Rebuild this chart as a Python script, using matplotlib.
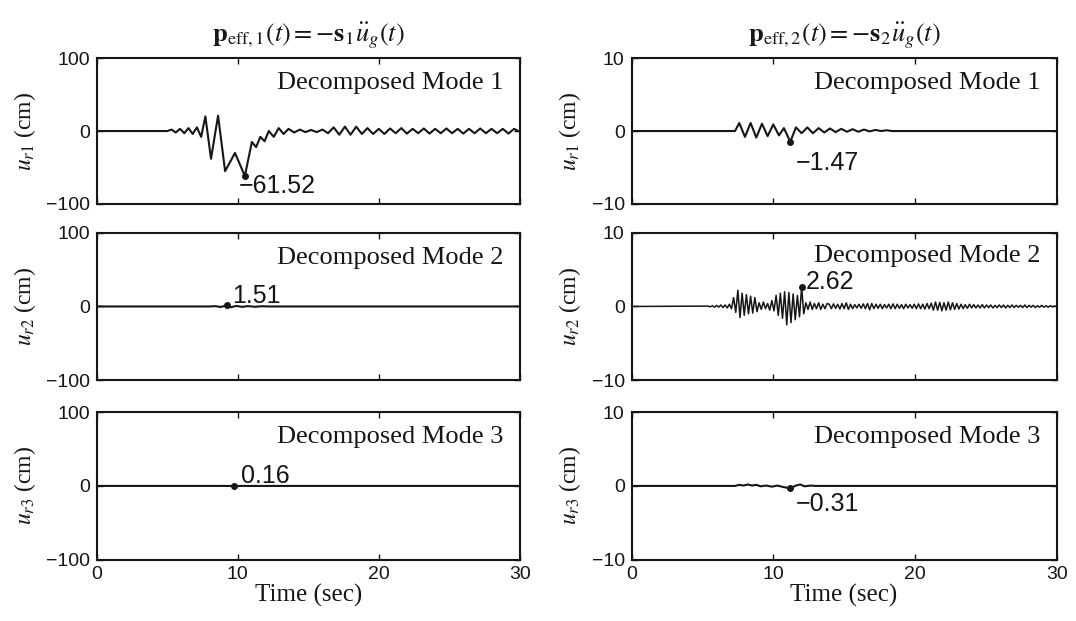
import numpy as np
import matplotlib
matplotlib.use("Agg")
import matplotlib.pyplot as plt

# -------------------------
# Modal response histories (time in sec, displacement in cm)
# -------------------------

# p_eff,1 : mode 1
t_m1_e1 = [0, 5.0, 5.3, 5.6, 5.9, 6.2, 6.5, 6.8, 7.1, 7.4, 7.7, 8.1, 8.6, 9.1, 9.8,
           10.5, 11.0, 11.3, 11.6, 11.9, 12.2, 12.55, 12.9, 13.25, 13.6, 14.0, 14.4,
           14.8, 15.2, 15.6, 16.0, 16.4, 16.8, 17.2, 17.6, 18.0, 18.4, 18.8, 19.2,
           19.6, 20.0, 20.4, 20.8, 21.2, 21.6, 22.0, 22.4, 22.8, 23.2, 23.6, 24.0,
           24.4, 24.8, 25.2, 25.6, 26.0, 26.4, 26.8, 27.2, 27.6, 28.0, 28.4, 28.8,
           29.2, 29.6, 30.0]
u_m1_e1 = [0, 0, 2, -2, 3, -3, 4, -4, 5, -8, 20, -38, 21, -55, -30,
           -61.52, -15, -22, -8, -14, 0, -8, 4, -4, 3, -2, 2,
           -1.5, 1.5, -1.5, 2, -3, 5, -5, 6, -5, 6, -4, 4,
           -4, 3, -4, 3.5, -3, 4, -3.5, 3, -3, 3.5, -3.5, 3,
           -3, 3.5, -3, 3, -3.5, 3, -3, 3.5, -3, 3, -3, 3,
           -3.5, 3, -1]

# p_eff,2 : mode 1
t_m1_e2 = [0, 7.3, 7.6, 8.0, 8.4, 8.8, 9.2, 9.6, 10.0, 10.4, 10.75, 11.2, 11.6, 12.0,
           12.4, 12.8, 13.2, 13.6, 14.0, 14.4, 14.8, 15.2, 15.6, 16.0, 16.4, 16.8,
           17.2, 17.6, 18.0, 18.4, 30.0]
u_m1_e2 = [0, 0, 1.1, -0.8, 1.1, -0.9, 1.0, -0.7, 0.9, -0.6, 0.4, -1.47, 0.5, -0.3,
           0.5, -0.3, 0.4, -0.2, 0.35, -0.15, 0.3, -0.1, 0.25, -0.1, 0.2, -0.05,
           0.15, 0, 0.1, 0, 0]

# p_eff,1 : mode 2
t_m2_e1 = [0, 8.0, 8.4, 8.8, 9.2, 9.5, 9.9, 10.3, 10.7, 11.2, 11.7, 12.2, 30.0]
u_m2_e1 = [0, 0, 0.4, -0.7, 1.51, -1.1, 0.8, -0.6, 0.5, -0.4, 0.3, 0, 0]

# p_eff,2 : mode 2, sampled every 0.15 s from 5.4 s
t0_m2_e2 = 5.4
dt_m2_e2 = 0.15
u_m2_e2 = [0.05, -0.05, 0.1, -0.1, 0.15, -0.1, 0.2, -0.15, 0.2, -0.2, 0.3, -0.3,
           1.2, -0.8, 2.2, -1.5, 1.8, -1.2, 1.6, -1.0, 1.4, -0.9, 1.2, -0.7,
           0.5, -0.4, 0.6, -0.3, 0.4, -0.5, 0.8, -0.6,
           1.5, -1.2, 1.8, -1.6, 2.0, -2.5, 1.9, -2.2, 1.7, -1.8, 1.5, -1.4, 2.62, -1.0,
           0.5, -0.4, 0.6, -0.4, 0.4, -0.3, 0.5, -0.4, 0.3, -0.3, 0.4,
           0.3, -0.3, 0.35, -0.25, 0.3, -0.35, 0.4, -0.3, 0.5, -0.4,
           0.3, -0.3, 0.25, -0.2, 0.3, -0.25, 0.35, -0.3, 0.4, -0.45,
           0.4, -0.3, 0.3, -0.25, 0.3, -0.3, 0.25, -0.2, 0.3, -0.3,
           0.35, -0.3, 0.3, -0.25, 0.25, -0.3, 0.3, -0.2, 0.25, -0.25,
           0.3, -0.3, 0.35, -0.3, 0.3, -0.35, 0.4, -0.3, 0.45, -0.5,
           0.6, -0.5, 0.55, -0.6, 0.5, -0.5, 0.6, -0.45, 0.5, -0.4,
           0.4, -0.35, 0.3, -0.3, 0.25, -0.25, 0.3, -0.2, 0.25, -0.2,
           0.2, -0.2, 0.25, -0.2, 0.2, -0.15, 0.2, -0.2, 0.15, -0.15,
           0.2, -0.15, 0.2, -0.2, 0.15, -0.15, 0.2, -0.15, 0.15, -0.1,
           0.15, -0.15, 0.2, -0.15, 0.15, -0.1, 0.15, -0.15, 0.1, -0.1,
           0.15, -0.1, 0.1, -0.1, 0.1, -0.05, 0.05]

# p_eff,1 : mode 3
t_m3_e1 = [0, 8.6, 9.0, 9.35, 9.7, 10.05, 10.4, 10.8, 11.3, 30.0]
u_m3_e1 = [0, 0, 0.06, -0.1, 0.16, -0.1, 0.08, -0.04, 0, 0]

# p_eff,2 : mode 3
t_m3_e2 = [0, 7.3, 7.6, 7.9, 8.2, 8.5, 8.8, 9.1, 9.5, 9.9, 10.3, 10.7, 11.2, 11.6,
           11.9, 12.2, 12.6, 13.0, 30.0]
u_m3_e2 = [0, 0, 0.15, 0.05, 0.2, 0.05, 0.15, -0.05, 0.05, -0.1, 0.05, -0.15, -0.31,
           0.05, 0.2, -0.05, 0.05, 0, 0]

# peak values written on each panel: (time, value)
peak_m1_e1 = (10.5, -61.52)
peak_m1_e2 = (11.2, -1.47)
peak_m2_e1 = (9.2, 1.51)
peak_m2_e2 = (12.0, 2.62)
peak_m3_e1 = (9.7, 0.16)
peak_m3_e2 = (11.2, -0.31)

titles = [r"$\mathbf{p}_{\mathrm{eff},1}(t) = -\mathbf{s}_1\ddot{u}_g(t)$",
          r"$\mathbf{p}_{\mathrm{eff},2}(t) = -\mathbf{s}_2\ddot{u}_g(t)$"]
ylabels = [r"$u_{r1}$ (cm)", r"$u_{r2}$ (cm)", r"$u_{r3}$ (cm)"]
mode_names = ["Decomposed Mode 1", "Decomposed Mode 2", "Decomposed Mode 3"]
ylims = [100, 10]

# -------------------------
# Figure
# -------------------------
plt.rcParams['font.family'] = ['Liberation Sans', 'DejaVu Sans']
plt.rcParams['mathtext.fontset'] = 'stix'

ink = '#161616'
fig = plt.figure(figsize=(10.76, 6.21), dpi=100)

col_left = [0.090, 0.587]
col_width = [0.393, 0.395]
row_bottom = [0.6715, 0.388, 0.099]
row_height = [0.235, 0.237, 0.237]

t_m2_e2 = [0] + list(t0_m2_e2 + dt_m2_e2 * np.arange(len(u_m2_e2))) + [30.0]
u_m2_e2_full = [0] + u_m2_e2 + [0]

# (time, value, peak, label anchor) per panel
series = [
    [(t_m1_e1, u_m1_e1, peak_m1_e1, (10.1, -76)), (t_m1_e2, u_m1_e2, peak_m1_e2, (11.6, -4.4))],
    [(t_m2_e1, u_m2_e1, peak_m2_e1, (9.6, 14)), (t_m2_e2, u_m2_e2_full, peak_m2_e2, (12.3, 3.3))],
    [(t_m3_e1, u_m3_e1, peak_m3_e1, (10.2, 13)), (t_m3_e2, u_m3_e2, peak_m3_e2, (11.6, -2.5))],
]

for r in range(3):
    for c in range(2):
        ax = fig.add_axes([col_left[c], row_bottom[r], col_width[c], row_height[r]])
        t, u, peak, lab = series[r][c]
        lw = 1.1 if (r == 1 and c == 1) else 1.5
        ax.plot(t, u, color=ink, lw=lw, solid_joinstyle='round')
        ax.plot([peak[0]], [peak[1]], 'o', color=ink, ms=4)
        if peak[1] < 0:
            txt = "\u2212%.2f" % abs(peak[1])
        else:
            txt = "%.2f" % peak[1]
        ax.text(lab[0], lab[1], txt, fontsize=18, color=ink, ha='left', va='center')

        lim = ylims[c]
        ax.set_xlim(0, 30)
        ax.set_ylim(-lim, lim)
        ax.set_yticks([-lim, 0, lim])
        ax.set_xticks([0, 10, 20, 30])
        ax.tick_params(direction='in', top=True, right=True, length=4, width=1.0,
                       labelsize=14, colors=ink, pad=5)
        for sp in ax.spines.values():
            sp.set_linewidth(1.5)
            sp.set_color(ink)
        if r < 2:
            ax.set_xticklabels([])
        else:
            ax.set_xlabel("Time (sec)", fontsize=18, family='Liberation Serif',
                          color=ink, labelpad=0)
        ax.set_ylabel(ylabels[r], fontsize=17, family='Liberation Serif', color=ink,
                      labelpad=6)
        name_y = 0.845 if (r == 1 and c == 1) else 0.83
        ax.text(0.962, name_y, mode_names[r], transform=ax.transAxes, ha='right',
                va='center', fontsize=19, family='Liberation Serif', color=ink)
        if r == 0:
            ax.set_title(titles[c], fontsize=19, color=ink, pad=12)

fig.savefig("out.png", dpi=100)
